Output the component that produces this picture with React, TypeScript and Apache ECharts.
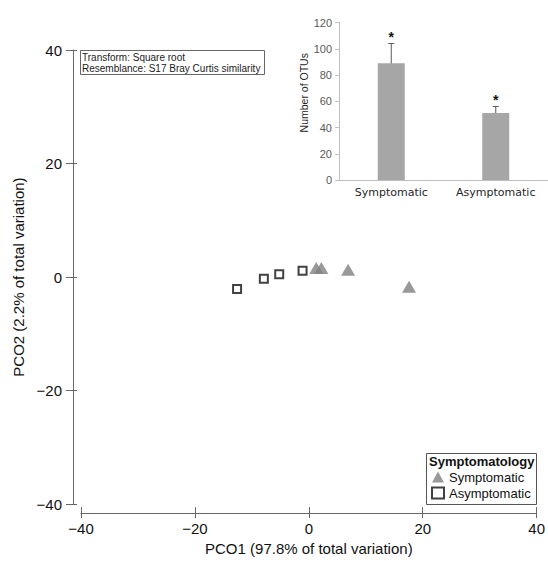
import React, { useEffect, useRef } from "react";
import * as echarts from "echarts";

const symptomaticPCO1 = [1.3, 2.2, 6.9, 17.6];
const symptomaticPCO2 = [1.6, 1.6, 1.3, -1.7];
const asymptomaticPCO1 = [-12.6, -7.9, -5.2, -1.1];
const asymptomaticPCO2 = [-2.1, -0.3, 0.5, 1.1];
const pcoMin = -40;
const pcoMax = 40;
const pcoStep = 20;

const insetCategories = ["Symptomatic", "Asymptomatic"];
const otuMeans = [89, 51];
const otuErrors = [15, 5];
const significance = ["*", "*"];
const otuMax = 120;
const otuStep = 20;

const infoLines = ["Transform: Square root", "Resemblance: S17 Bray Curtis similarity"];
const legendTitle = "Symptomatology";
const seriesNames = ["Symptomatic", "Asymptomatic"];

const FONT = "Liberation Sans, Arial, sans-serif";
const minus = (v: number) => (v < 0 ? "\u2212" + Math.abs(v) : String(v));

export default function App() {
  const ref = useRef<HTMLDivElement>(null);
  useEffect(() => {
    if (!ref.current) return;
    const chart = echarts.init(ref.current, undefined, { renderer: "svg" });
    const axisColor = "#666";
    const mainLabel = { fontFamily: FONT, fontSize: 15, color: "#111" };
    const option: any = {
      animation: false,
      backgroundColor: "#fff",
      grid: [
        { left: 81, top: 50, width: 459, height: 459, containLabel: false },
        { left: 339, top: 22.5, width: 213, height: 157.5, containLabel: false },
      ],
      xAxis: [
        {
          gridIndex: 0, type: "value", min: pcoMin, max: pcoMax, interval: pcoStep,
          position: "bottom", offset: 9,
          name: "PCO1 (97.8% of total variation)", nameLocation: "middle", nameGap: 24,
          nameTextStyle: { ...mainLabel },
          axisLine: { show: true, onZero: false, lineStyle: { color: axisColor, width: 1 } },
          axisTick: { show: true, inside: false, length: 5, lineStyle: { color: axisColor } },
          axisLabel: { ...mainLabel, margin: 8, formatter: minus },
          splitLine: { show: false },
        },
        {
          gridIndex: 0, type: "value", min: pcoMin, max: pcoMax, interval: pcoStep,
          position: "bottom", offset: 9,
          axisLine: { show: false, onZero: false },
          axisTick: { show: true, inside: true, length: 6, lineStyle: { color: axisColor } },
          axisLabel: { show: false },
          splitLine: { show: false },
        },
        {
          gridIndex: 1, type: "category", data: insetCategories,
          axisLine: { show: true, lineStyle: { color: "#bfbfbf" } },
          axisTick: { show: false },
          axisLabel: { fontFamily: "DejaVu Sans, sans-serif", fontSize: 11, color: "#262626", margin: 7 },
        },
      ],
      yAxis: [
        {
          gridIndex: 0, type: "value", min: pcoMin, max: pcoMax, interval: pcoStep,
          position: "left", offset: 8,
          name: "PCO2 (2.2% of total variation)", nameLocation: "middle", nameGap: 38,
          nameTextStyle: { ...mainLabel },
          axisLine: { show: true, onZero: false, lineStyle: { color: axisColor, width: 1 } },
          axisTick: { show: true, inside: false, length: 7, lineStyle: { color: axisColor } },
          axisLabel: { ...mainLabel, margin: 11, formatter: minus },
          splitLine: { show: false },
        },
        {
          gridIndex: 0, type: "value", min: pcoMin, max: pcoMax, interval: pcoStep,
          position: "left", offset: 8,
          axisLine: { show: false, onZero: false },
          axisTick: { show: true, inside: true, length: 4, lineStyle: { color: axisColor } },
          axisLabel: { show: false },
          splitLine: { show: false },
        },
        {
          gridIndex: 1, type: "value", min: 0, max: otuMax, interval: otuStep,
          name: "Number of OTUs", nameLocation: "middle", nameGap: 21,
          nameTextStyle: { fontFamily: FONT, fontSize: 10.5, color: "#262626", padding: [0, 0, 0, 17] },
          axisLine: { show: true, lineStyle: { color: "#bfbfbf" } },
          axisTick: { show: true, length: 4, lineStyle: { color: "#bfbfbf" } },
          axisLabel: { fontFamily: FONT, fontSize: 11, color: "#595959", margin: 7 },
          splitLine: { show: false },
        },
      ],
      legend: {
        data: seriesNames,
        orient: "vertical",
        left: 431,
        top: 470.5,
        itemWidth: 12,
        itemHeight: 11,
        itemGap: 3,
        padding: 0,
        textStyle: { fontFamily: FONT, fontSize: 13, color: "#111", lineHeight: 13 },
      },
      graphic: [
        {
          type: "rect", shape: { x: 80.5, y: 50.5, width: 184, height: 24 },
          style: { fill: "#fff", stroke: "#666", lineWidth: 1 }, z: 10,
        },
        {
          type: "text", x: 82, y: 57, z: 11,
          style: { text: infoLines[0], fontFamily: FONT, fontSize: 10, fill: "#222", verticalAlign: "middle" },
        },
        {
          type: "text", x: 82, y: 68, z: 11,
          style: { text: infoLines[1], fontFamily: FONT, fontSize: 10, fill: "#222", verticalAlign: "middle" },
        },
        {
          type: "rect", shape: { x: 426.5, y: 453.5, width: 110, height: 51 },
          style: { fill: "none", stroke: "#555", lineWidth: 1 }, z: 10,
        },
        {
          type: "text", x: 429, y: 461, z: 11,
          style: { text: legendTitle, fontFamily: FONT, fontSize: 13, fontWeight: "bold", fill: "#111", verticalAlign: "middle" },
        },
      ],
      series: [
        {
          name: seriesNames[0], type: "scatter", xAxisIndex: 0, yAxisIndex: 0,
          symbol: "triangle", symbolSize: [14, 12],
          itemStyle: { color: "#808080" },
          data: symptomaticPCO1.map((x, i) => [x, symptomaticPCO2[i]]),
        },
        {
          name: seriesNames[1], type: "scatter", xAxisIndex: 0, yAxisIndex: 0,
          symbol: "rect", symbolSize: 8,
          itemStyle: { color: "#fff", borderColor: "#111", borderWidth: 2 },
          data: asymptomaticPCO1.map((x, i) => [x, asymptomaticPCO2[i]]),
        },
        {
          name: "Number of OTUs", type: "bar", xAxisIndex: 2, yAxisIndex: 2,
          barWidth: 27,
          itemStyle: { color: "#a6a6a6" },
          data: otuMeans,
        },
        {
          name: "error", type: "custom", xAxisIndex: 2, yAxisIndex: 2,
          encode: { x: 0, y: [1, 2] },
          data: otuMeans.map((m, i) => [i, m - otuErrors[i], m + otuErrors[i]]),
          renderItem: (params: any, api: any) => {
            const idx = api.value(0);
            const lo = api.coord([idx, api.value(1)]);
            const hi = api.coord([idx, api.value(2)]);
            const c = hi[0];
            const w = 3;
            const ls = { stroke: "#595959", lineWidth: 1 };
            return {
              type: "group",
              children: [
                { type: "line", shape: { x1: c, y1: lo[1], x2: c, y2: hi[1] }, style: ls },
                { type: "line", shape: { x1: c - w, y1: lo[1], x2: c + w, y2: lo[1] }, style: ls },
                { type: "line", shape: { x1: c - w, y1: hi[1], x2: c + w, y2: hi[1] }, style: ls },
                {
                  type: "text", x: c, y: hi[1] - 7,
                  style: { text: significance[params.dataIndex], fontFamily: FONT, fontSize: 14, fontWeight: "bold", fill: "#111", align: "center", verticalAlign: "middle" },
                },
              ],
            };
          },
        },
      ],
    };
    chart.setOption(option);
    return () => chart.dispose();
  }, []);
  return <div ref={ref} style={{ position: "fixed", left: 0, top: 0, width: 548, height: 561 }} />;
}
